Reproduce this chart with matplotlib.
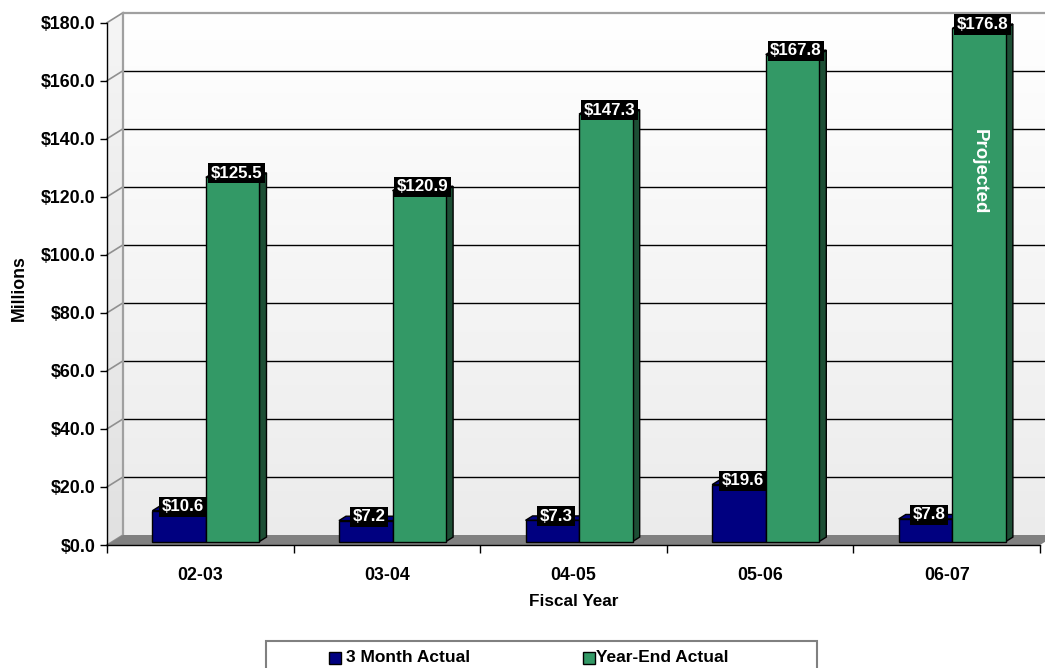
import numpy as np
import matplotlib
matplotlib.use("Agg")
import matplotlib.pyplot as plt
from matplotlib.patches import Polygon, Rectangle
from matplotlib.colors import LinearSegmentedColormap

# ---- data ----
years = ["02-03", "03-04", "04-05", "05-06", "06-07"]
three_month = [10.6, 7.2, 7.3, 19.6, 7.8]
year_end = [125.5, 120.9, 147.3, 167.8, 176.8]
series_names = ["3 Month Actual", "Year-End Actual"]
y_ticks = [0, 20, 40, 60, 80, 100, 120, 140, 160, 180]
y_tick_labels = ["$0.0", "$20.0", "$40.0", "$60.0", "$80.0", "$100.0",
                 "$120.0", "$140.0", "$160.0", "$180.0"]
note_text = "Projected"
x_title = "Fiscal Year"
y_title = "Millions"

# ---- style ----
plt.rcParams['font.family'] = ['Liberation Sans', 'DejaVu Sans']
plt.rcParams['font.weight'] = 'bold'
FS = 12.8
NAVY = '#000080'
GREEN = '#339966'
GREEN_SIDE = '#1d4f35'
NAVY_SIDE = '#00004d'

W, H = 1045, 668
fig = plt.figure(figsize=(W / 100, H / 100), dpi=100)
ax_left, ax_right, ax_top, ax_bot = 107, 1040, 22.7, 545
ax = fig.add_axes([ax_left / W, 1 - ax_bot / H, (ax_right - ax_left) / W,
                   (ax_bot - ax_top) / H])
ax.patch.set_visible(False)

x = np.arange(len(years))
px_x = (ax_right - ax_left) / len(years)
px_y = (ax_bot - ax_top) / 180.0
DX = 16 / px_x          # depth offset of back wall (data units)
DY = 10 / px_y
f1, f2 = 0.35, 0.79     # bar depth range (fraction of wall depth)
BW = 0.287              # bar width

xmin, xmax = -0.5, len(years) - 0.5

# walls gradient
cmap = LinearSegmentedColormap.from_list('wall', ['#ebebeb', '#ffffff'])
grad = np.linspace(0, 1, 256).reshape(-1, 1)
wall_poly = Polygon([(xmin, 0), (xmin + DX, DY), (xmax + DX + 0.3, DY),
                     (xmax + DX + 0.3, 180 + DY), (xmin + DX, 180 + DY),
                     (xmin, 180)], closed=True, transform=ax.transData)
im = ax.imshow(grad, extent=(xmin, xmax + DX + 0.3, 0, 180 + DY), origin='lower',
               cmap=cmap, aspect='auto', zorder=0, interpolation='bilinear')
im.set_clip_box(fig.bbox)
im.set_clip_path(wall_poly)

# left wall slight shade
ax.add_patch(Polygon([(xmin, 0), (xmin + DX, DY), (xmin + DX, 180 + DY), (xmin, 180)],
                     closed=True, facecolor='black', alpha=0.04, edgecolor='none',
                     zorder=0.5, clip_on=False))

# gridlines
for v in y_ticks:
    col = '#a0a0a0' if v == y_ticks[-1] else '#000000'
    lw = 1.6 if v == y_ticks[-1] else 1.0
    if v > 0:
        ax.plot([xmin + DX, xmax + DX + 0.3], [v + DY, v + DY], color=col, lw=lw,
                clip_on=False, zorder=1, solid_capstyle='butt')
    ax.plot([xmin, xmin + DX], [v, v + DY], color='#909090', lw=1.2,
            clip_on=False, zorder=1)
ax.plot([xmin + DX, xmin + DX], [DY, 180 + DY], color='#a0a0a0', lw=1.6,
        clip_on=False, zorder=1)

# floor
ax.add_patch(Polygon([(xmin, 0), (xmax, 0), (xmax + DX, DY), (xmin + DX, DY)],
                     closed=True, facecolor='#808080', edgecolor='none',
                     zorder=1.5, clip_on=False))


def draw_bars(xc, vals, face, side, z):
    x0 = xc - BW / 2 + f1 * DX
    y0 = f1 * DY
    ax.bar(x0 + BW / 2, vals, width=BW, bottom=y0, color=face,
           edgecolor='black', linewidth=1.0, zorder=z, clip_on=False)
    ddx, ddy = (f2 - f1) * DX, (f2 - f1) * DY
    for xi, v in zip(x0, vals):
        x1 = xi + BW
        y1 = v + y0
        ax.add_patch(Polygon([(x1, y0), (x1 + ddx, y0 + ddy), (x1 + ddx, y1 + ddy),
                              (x1, y1)], closed=True, facecolor=side,
                             edgecolor='black', lw=1.0, zorder=z - 0.1, clip_on=False))
        ax.add_patch(Polygon([(xi, y1), (x1, y1), (x1 + ddx, y1 + ddy),
                              (xi + ddx, y1 + ddy)], closed=True, facecolor=face,
                             edgecolor='black', lw=1.0, zorder=z - 0.1, clip_on=False))


draw_bars(x - BW / 2, three_month, NAVY, NAVY_SIDE, 3)
draw_bars(x + BW / 2, year_end, GREEN, GREEN_SIDE, 4)

# data labels
fm = (f1 + f2) / 2
for xc, vals in ((x - BW / 2, three_month), (x + BW / 2, year_end)):
    for xi, v in zip(xc, vals):
        ax.text(xi + fm * DX, v + 0.75 * DY, f"${v:.1f}", ha='center', va='center',
                color='white', fontsize=12.2, fontweight='bold', zorder=10,
                bbox=dict(facecolor='black', edgecolor='none', pad=1.8))

# projected note
ax.text(x[-1] + BW / 2 + f1 * DX, 128.5, note_text, rotation=-90, ha='center',
        va='center', color='white', fontsize=13.5, fontweight='bold', zorder=11)

# axes
ax.set_xlim(xmin, xmax)
ax.set_ylim(0, 180)
for s in ('top', 'right'):
    ax.spines[s].set_visible(False)
for s in ('left', 'bottom'):
    ax.spines[s].set_color('black')
    ax.spines[s].set_linewidth(1.0)
    ax.spines[s].set_zorder(5)
ax.set_yticks(y_ticks, y_tick_labels)
ax.tick_params(axis='y', length=5, width=1, pad=3.5, labelsize=FS, direction='out')
ax.set_xticks(np.arange(xmin, xmax + 0.01, 1.0))
ax.set_xticklabels([])
ax.tick_params(axis='x', which='major', length=6, width=1, direction='out')
ax.set_xticks(x, minor=True)
ax.set_xticklabels(years, minor=True)
ax.tick_params(axis='x', which='minor', length=0, pad=16, labelsize=FS)
for lab in ax.get_xticklabels(minor=True) + ax.get_yticklabels():
    lab.set_fontweight('bold')

fig.text(573.5 / W, 1 - 601 / H, x_title, ha='center', va='center',
         fontsize=12.3, fontweight='bold')
fig.text(19 / W, 1 - 288 / H, y_title, ha='center', va='center', rotation=90,
         fontsize=12.8, fontweight='bold')

# legend (box partly cut off at bottom)
fig.patches.append(Rectangle((266 / W, -0.05), (817 - 266) / W, 0.05 + (1 - 641 / H),
                             transform=fig.transFigure, facecolor='white',
                             edgecolor='#808080', lw=1.5, zorder=1))
for (sx, tx), name, col in zip(((329, 345.5), (583, 596.5)), series_names, (NAVY, GREEN)):
    fig.patches.append(Rectangle((sx / W, 1 - 664 / H), 12 / W, 12 / H,
                                 transform=fig.transFigure, facecolor=col,
                                 edgecolor='black', lw=1.0, zorder=2))
    fig.text(tx / W, 1 - 658 / H, name, ha='left', va='center', fontsize=12.5,
             fontweight='bold', zorder=3)

fig.savefig('out.png', dpi=100)
